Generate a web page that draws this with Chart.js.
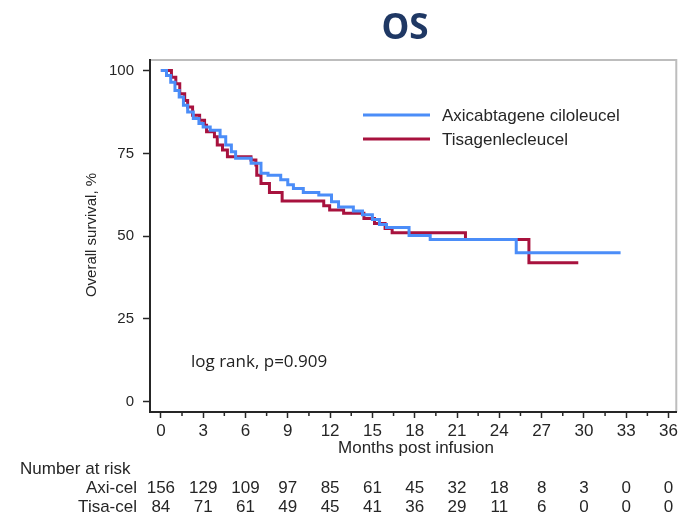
<!DOCTYPE html>
<html>
<head>
<meta charset="utf-8">
<script src="https://cdn.jsdelivr.net/npm/chart.js@4"></script>
<style>
  html, body { margin: 0; padding: 0; background: #fff; }
  #wrap { width: 681px; height: 519px; }
</style>
</head>
<body>
<div id="wrap"><canvas id="os"></canvas></div>
<script>
// Kaplan-Meier OS, event times (months) and survival (%) after each step
const axiMeses = [0, 0.4, 0.7, 1.0, 1.3, 1.6, 1.9, 2.3, 2.7, 3.0, 3.5, 4.2, 4.6, 5.0, 5.3, 6.4, 7.1, 7.6, 8.5, 9.0, 9.4, 10.1, 11.2, 12.1, 12.6, 13.65, 14.3, 15.0, 15.5, 16.0, 17.6, 19.1, 25.2, 32.6];
const axiSuperv = [100, 98.5, 96.5, 94, 92, 89.5, 87.5, 85.5, 84, 83, 82, 80, 77.5, 75.5, 73.5, 72, 69, 68.4, 67, 65.5, 64.4, 63.2, 62.4, 60.4, 58.8, 57.6, 56.5, 55, 53.5, 52.6, 50.2, 49, 45, 45];

const tisaMeses = [0, 0.75, 1.06, 1.34, 1.69, 1.9, 2.25, 2.75, 3.1, 3.24, 3.8, 4.0, 4.37, 4.72, 6.39, 6.74, 6.8, 7.1, 7.7, 8.6, 11.55, 11.97, 12.96, 14.4, 15.15, 15.9, 16.4, 21.6, 26.1, 29.6];
const tisaSuperv = [100, 98, 96, 93, 91, 89, 86.5, 85, 83.5, 81.5, 80, 77.5, 76, 74, 73, 71.5, 68.4, 65.9, 63.2, 60.6, 59.2, 57.9, 56.9, 55.3, 53.8, 52.3, 51, 49, 42, 42];

// ejes
const xTicks = [0, 3, 6, 9, 12, 15, 18, 21, 24, 27, 30, 33, 36];
const xMinor = [1.5, 4.5, 7.5, 10.5, 13.5, 16.5, 19.5, 22.5, 25.5, 28.5, 31.5, 34.5];
const yTicks = [0, 25, 50, 75, 100];

// numero en riesgo
const riesgoAxi = [156, 129, 109, 97, 85, 61, 45, 32, 18, 8, 3, 0, 0];
const riesgoTisa = [84, 71, 61, 49, 45, 41, 36, 29, 11, 6, 0, 0, 0];

const colorAxi = '#4b8df8';
const colorTisa = '#a8123e';
const colorTexto = '#262626';
const fuente = '"Liberation Sans", Arial, sans-serif';

const toPts = (xs, ys) => xs.map((x, i) => ({ x: x, y: ys[i] }));

const extras = {
  id: 'extras',
  beforeDraw(chart) {
    const { ctx, chartArea: a } = chart;
    // marco superior y derecho en gris claro
    ctx.save();
    ctx.strokeStyle = '#bdbdbd';
    ctx.lineWidth = 2;
    ctx.beginPath();
    ctx.moveTo(a.left, a.top);
    ctx.lineTo(a.right, a.top);
    ctx.lineTo(a.right, a.bottom);
    ctx.stroke();
    ctx.restore();
  },
  afterDraw(chart) {
    const { ctx, chartArea: a } = chart;
    const xs = chart.scales.x;
    ctx.save();

    // ticks menores del eje x
    ctx.strokeStyle = colorTexto;
    ctx.lineWidth = 1.5;
    xMinor.forEach(v => {
      const px = xs.getPixelForValue(v);
      ctx.beginPath();
      ctx.moveTo(px, a.bottom);
      ctx.lineTo(px, a.bottom + 4);
      ctx.stroke();
    });

    // titulo
    ctx.fillStyle = '#1f3864';
    ctx.font = 'bold 35px "Open Sans", sans-serif';
    ctx.textAlign = 'center';
    ctx.textBaseline = 'middle';
    ctx.fillText('OS', 405, 29);

    // leyenda
    ctx.lineWidth = 3;
    ctx.strokeStyle = colorAxi;
    ctx.beginPath(); ctx.moveTo(363, 115); ctx.lineTo(430, 115); ctx.stroke();
    ctx.strokeStyle = colorTisa;
    ctx.beginPath(); ctx.moveTo(363, 139); ctx.lineTo(430, 139); ctx.stroke();
    ctx.fillStyle = colorTexto;
    ctx.font = '17px ' + fuente;
    ctx.textAlign = 'left';
    ctx.fillText('Axicabtagene ciloleucel', 442, 116);
    ctx.fillText('Tisagenlecleucel', 442, 140);

    // log rank
    ctx.fillStyle = '#222';
    ctx.font = '17px "Open Sans", sans-serif';
    ctx.fillText('log rank, p=0.909', 191, 362);

    // titulos de ejes
    ctx.fillStyle = colorTexto;
    ctx.font = '17px ' + fuente;
    ctx.textAlign = 'center';
    ctx.fillText('Months post infusion', 416, 448);
    ctx.save();
    ctx.translate(92, 235);
    ctx.rotate(-Math.PI / 2);
    ctx.font = '15px ' + fuente;
    ctx.fillText('Overall survival, %', 0, 0);
    ctx.restore();

    // tabla de numero en riesgo
    ctx.font = '17px ' + fuente;
    ctx.textAlign = 'left';
    ctx.fillText('Number at risk', 20, 469);
    ctx.textAlign = 'right';
    ctx.fillText('Axi-cel', 137, 488);
    ctx.fillText('Tisa-cel', 137, 507);
    ctx.textAlign = 'center';
    xTicks.forEach((v, i) => {
      const px = xs.getPixelForValue(v);
      ctx.fillText(String(riesgoAxi[i]), px, 488);
      ctx.fillText(String(riesgoTisa[i]), px, 507);
    });

    ctx.restore();
  }
};

new Chart(document.getElementById('os'), {
  type: 'line',
  data: {
    datasets: [
      {
        label: 'Axicabtagene ciloleucel',
        data: toPts(axiMeses, axiSuperv),
        borderColor: colorAxi,
        borderWidth: 3,
        stepped: 'before',
        pointRadius: 0,
        fill: false
      },
      {
        label: 'Tisagenlecleucel',
        data: toPts(tisaMeses, tisaSuperv),
        borderColor: colorTisa,
        borderWidth: 3,
        stepped: 'before',
        pointRadius: 0,
        fill: false
      }
    ]
  },
  options: {
    responsive: true,
    maintainAspectRatio: false,
    animation: false,
    layout: { padding: { top: 60, right: 1, bottom: 0, left: 0 } },
    plugins: {
      legend: { display: false },
      tooltip: { enabled: false }
    },
    scales: {
      x: {
        type: 'linear',
        min: -0.77,
        max: 36.55,
        afterFit: s => { s.height = 107; },
        afterBuildTicks: s => { s.ticks = xTicks.map(v => ({ value: v })); },
        grid: { display: true, drawOnChartArea: false, drawTicks: true, tickLength: 6, tickColor: colorTexto, tickWidth: 1.5 },
        border: { color: colorTexto, width: 2 },
        ticks: {
          color: colorTexto,
          padding: 3,
          maxRotation: 0,
          font: { family: fuente, size: 17 }
        }
      },
      y: {
        min: -3.1,
        max: 103.2,
        afterFit: s => { s.width = 150; },
        afterBuildTicks: s => { s.ticks = yTicks.map(v => ({ value: v })); },
        grid: { display: true, drawOnChartArea: false, drawTicks: true, tickLength: 7, tickColor: colorTexto, tickWidth: 1.5 },
        border: { color: colorTexto, width: 2 },
        ticks: {
          color: colorTexto,
          padding: 9,
          font: { family: fuente, size: 15 }
        }
      }
    }
  },
  plugins: [extras]
});
</script>
</body>
</html>
